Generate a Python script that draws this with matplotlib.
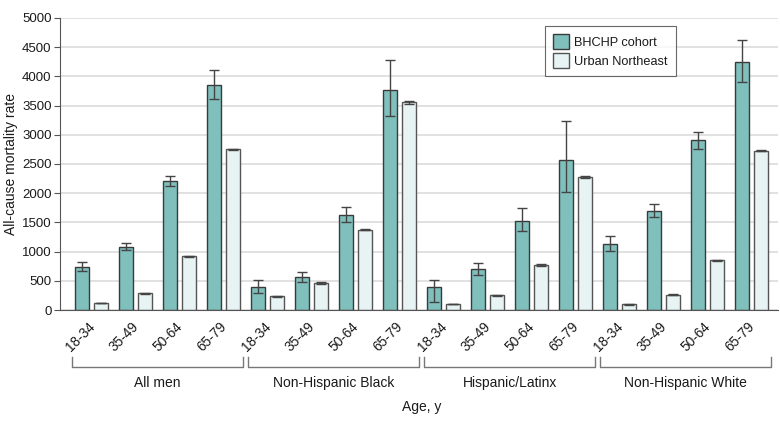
import matplotlib
matplotlib.use("Agg")
import matplotlib.pyplot as plt
import matplotlib.transforms as mtransforms
import numpy as np

groups = ["All men", "Non-Hispanic Black", "Hispanic/Latinx", "Non-Hispanic White"]
ages = ["18-34", "35-49", "50-64", "65-79"]

bhchp = [743, 1086, 2206, 3851,
         389, 560, 1629, 3771,
         389, 697, 1531, 2560,
         1126, 1697, 2903, 4246]
bhchp_lo = [674, 1029, 2120, 3611,
            286, 480, 1503, 3326,
            131, 600, 1349, 2023,
            1006, 1589, 2754, 3903]
bhchp_hi = [817, 1154, 2291, 4109,
            509, 646, 1760, 4280,
            509, 806, 1743, 3229,
            1263, 1817, 3046, 4623]

urban = [120, 286, 920, 2754,
         234, 463, 1377, 3554,
         103, 251, 771, 2274,
         97, 263, 851, 2731]
urban_err = [5, 6, 8, 10,
             8, 10, 15, 30,
             5, 8, 10, 20,
             3, 5, 8, 15]

plt.rcParams["font.family"] = ["Liberation Sans", "DejaVu Sans"]
plt.rcParams["text.color"] = "#1a1a1a"
plt.rcParams["axes.labelcolor"] = "#1a1a1a"
plt.rcParams["xtick.color"] = "#1a1a1a"
plt.rcParams["ytick.color"] = "#1a1a1a"

teal = "#7fc0bd"
pale = "#e8f4f4"
edge = "#3a3a3a"

fig = plt.figure(figsize=(7.8, 4.23), dpi=100)
ax = fig.add_axes([60/780, (423-310)/423, (778-60)/780, (310-18)/423])

n = len(bhchp)
x = np.arange(n)
w = 0.32
off = 0.21
yerr_b = [np.array(bhchp) - np.array(bhchp_lo), np.array(bhchp_hi) - np.array(bhchp)]

ax.yaxis.grid(True, color="#dcdcdc", lw=1.2)
ax.set_axisbelow(True)

ax.bar(x - off, bhchp, width=w, color=teal, edgecolor=edge, lw=1.0, label="BHCHP cohort", zorder=2)
ax.bar(x + off, urban, width=w, color=pale, edgecolor="#555555", lw=1.0, label="Urban Northeast", zorder=2)
ax.errorbar(x - off, bhchp, yerr=yerr_b, fmt="none", ecolor="#444444", elinewidth=1.0, capsize=3.5, capthick=1.0, zorder=3)
ax.errorbar(x + off, urban, yerr=urban_err, fmt="none", ecolor="#444444", elinewidth=1.0, capsize=3.5, capthick=1.0, zorder=3)

ax.set_xlim(-0.72, 15.6)
ax.set_ylim(0, 5000)
ax.set_yticks(np.arange(0, 5001, 500))
ax.tick_params(axis="y", labelsize=9.5, length=4, color="#555555", pad=2)
ax.set_xticks(x)
ax.set_xticklabels(ages * 4, rotation=45, ha="right", va="top", fontsize=9.8)
ax.tick_params(axis="x", length=0, pad=7)
shift = mtransforms.ScaledTranslation(6/100, 0, fig.dpi_scale_trans)
for lab in ax.get_xticklabels():
    lab.set_transform(lab.get_transform() + shift)
for s in ["top", "right"]:
    ax.spines[s].set_visible(False)
ax.spines["left"].set_color("#555555")
ax.spines["bottom"].set_color("#555555")

ax.set_ylabel("All-cause mortality rate", fontsize=10)
ax.yaxis.set_label_coords(-(60-18)/718, 0.5)

leg = ax.legend(loc="upper left", bbox_to_anchor=((545-60)/718, (310-26)/292), fontsize=9.2,
                frameon=True, fancybox=False, edgecolor="#444444", handlelength=1.25, handleheight=1.35,
                borderpad=0.65, labelspacing=0.35, handletextpad=0.4, borderaxespad=0)
leg.get_frame().set_linewidth(0.8)

# brackets
trans = mtransforms.blended_transform_factory(ax.transData, fig.transFigure)
y_top = (423-357)/423
y_bot = (423-367)/423
for gi, g in enumerate(groups):
    x0 = gi*4 - 0.45
    x1 = gi*4 + 3 + 0.43
    ax.plot([x0, x0, x1, x1], [y_top, y_bot, y_bot, y_top], transform=trans, color="#777777", lw=1.0, clip_on=False)
    ax.text(gi*4 + 1.5, (423-383)/423, g, transform=trans, ha="center", va="center", fontsize=10)

fig.text(422/780, (423-407)/423, "Age, y", ha="center", va="center", fontsize=10)

fig.savefig("out.png", dpi=100)
